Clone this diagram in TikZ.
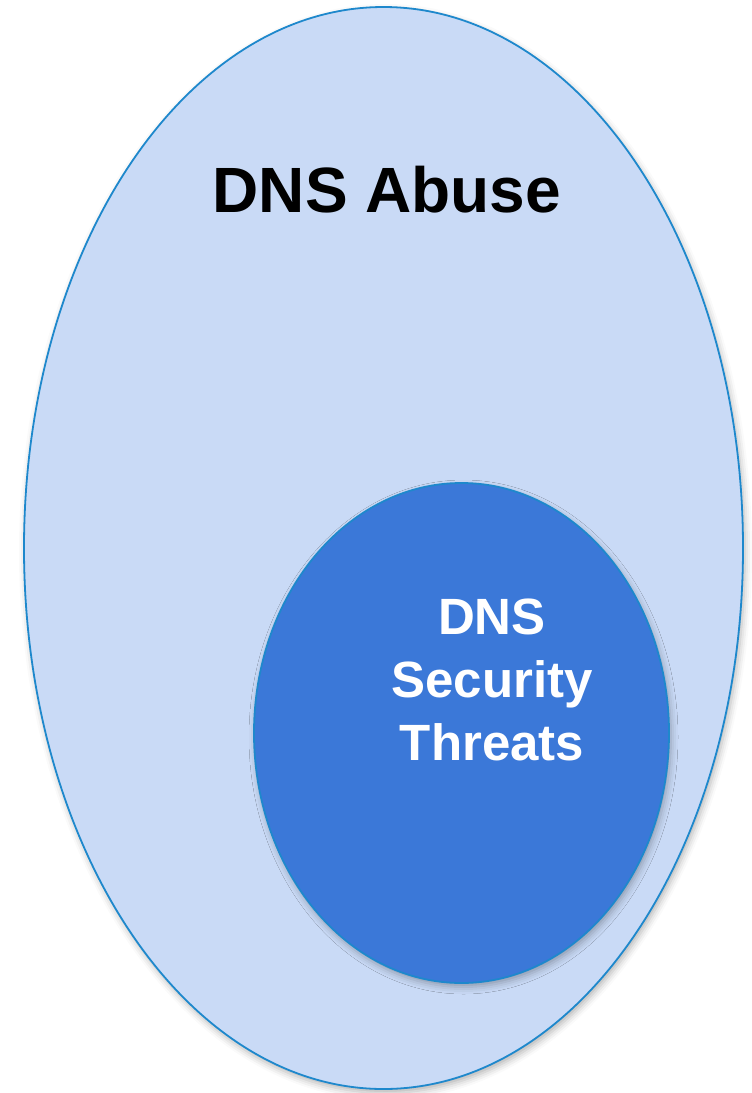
\documentclass[tikz,border=0pt]{standalone}
\usepackage{fontspec}
\setmainfont{Liberation Sans}
\usetikzlibrary{shapes.geometric,shadows.blur}
\definecolor{outerfill}{RGB}{201,218,246}
\definecolor{ringline}{RGB}{30,136,204}
\definecolor{innerfill}{RGB}{59,120,216}
\tikzset{
  setshape/.style={ellipse, draw=ringline, line width=1.8pt, inner sep=0pt,
    blur shadow={shadow xshift=2pt, shadow yshift=-4pt, shadow blur radius=7pt, shadow opacity=30}},
}
\begin{document}
\begin{tikzpicture}[x=1pt,y=-1pt]
\useasboundingbox (0,0) rectangle (752,1093);
\node[setshape, fill=outerfill, minimum width=719pt, minimum height=1082pt] (abuse) at (383.5,548) {};
\node[setshape, fill=innerfill, minimum width=415pt, minimum height=500pt] (threats) at (461.5,733) {};
\node[inner sep=0pt, font=\fontsize{64}{64}\selectfont\bfseries] (abusetext) at (387,190) {DNS Abuse};
\node[inner sep=0pt, align=center, text=white, font=\fontsize{51}{63}\selectfont\bfseries] (threatstext) at (492,680) {DNS\\Security\\Threats};
\end{tikzpicture}
\end{document}
